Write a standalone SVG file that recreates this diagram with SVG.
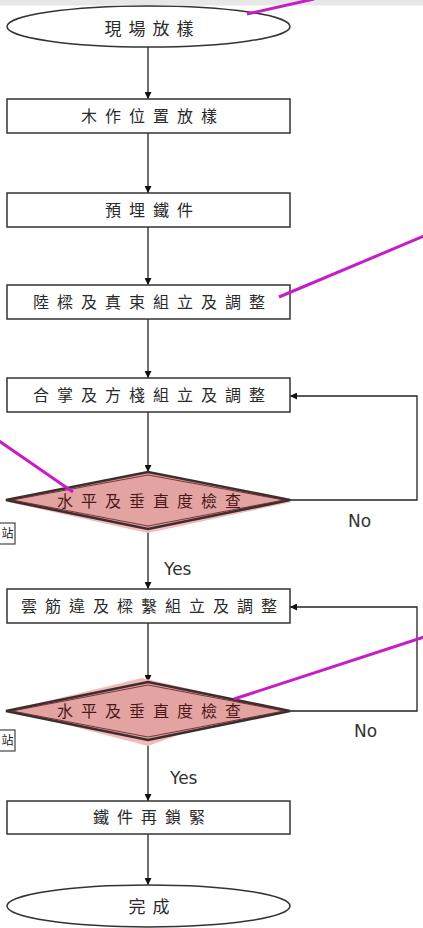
<svg xmlns="http://www.w3.org/2000/svg" width="423" height="928" viewBox="0 0 423 928">
<style>
.bg{fill:#ffffff}
.band{fill:#e7e7e7}
.box{fill:#ffffff;stroke:#333333;stroke-width:1.5}
.dia{fill:#e3a3a3;stroke:#3a2e2e;stroke-width:2.6;stroke-linejoin:miter}
.diain{fill:none;stroke:#6b2a2a;stroke-width:0.9}
.halo{fill:#f6b9b9}
.t{font-family:"Noto Sans CJK TC","Noto Sans CJK SC",sans-serif;font-size:16px;letter-spacing:8px;fill:#2a2a2a;text-anchor:middle}
.te{font-size:17px;letter-spacing:7px}
.td{fill:#4a1818}
.yn{font-family:"DejaVu Sans","Liberation Sans",sans-serif;font-size:17px;fill:#333333}
.ln{fill:none;stroke:#222222;stroke-width:1.3}
.mg{stroke:#c61ec6;stroke-width:3;fill:none}
.side{fill:#ffffff;stroke:#444444;stroke-width:1.2}
.st{font-family:"Noto Sans CJK TC",sans-serif;font-size:12px;fill:#222222}
</style>
<defs>
<marker id="ah" viewBox="0 0 10 10" refX="10" refY="5" markerWidth="7" markerHeight="7" markerUnits="userSpaceOnUse" orient="auto">
<path d="M0,0 L10,5 L0,10 z" fill="#111111"/>
</marker>
</defs>
<rect class="bg" x="0" y="0" width="423" height="928"/>
<rect class="band" x="0" y="0" width="423" height="5.5"/>

<g id="connectors">
<line class="ln" x1="148" y1="47" x2="148" y2="99" marker-end="url(#ah)"/>
<line class="ln" x1="148" y1="133" x2="148" y2="193" marker-end="url(#ah)"/>
<line class="ln" x1="148" y1="227" x2="148" y2="285" marker-end="url(#ah)"/>
<line class="ln" x1="148" y1="319" x2="148" y2="378" marker-end="url(#ah)"/>
<line class="ln" x1="148" y1="412" x2="148" y2="472" marker-end="url(#ah)"/>
<line class="ln" x1="148" y1="529" x2="148" y2="589" marker-end="url(#ah)"/>
<line class="ln" x1="148" y1="623" x2="148" y2="682" marker-end="url(#ah)"/>
<line class="ln" x1="148" y1="740" x2="148" y2="801" marker-end="url(#ah)"/>
<line class="ln" x1="148" y1="834" x2="148" y2="885" marker-end="url(#ah)"/>
<polyline class="ln" points="290,500 417,500 417,396 290,396" marker-end="url(#ah)"/>
<polyline class="ln" points="290,711 417,711 417,607 290,607" marker-end="url(#ah)"/>
<text class="yn" x="348" y="527">No</text>
<text class="yn" x="354" y="737">No</text>
<text class="yn" x="164" y="575">Yes</text>
<text class="yn" x="170" y="784">Yes</text>
</g>

<g id="start">
<ellipse class="box" cx="148.5" cy="26.5" rx="141.5" ry="20.5"/>
<text class="t te" x="152.5" y="34.5">現場放樣</text>
</g>
<g id="step1">
<rect class="box" x="7" y="99" width="283" height="34"/>
<text class="t" x="153" y="122">木作位置放樣</text>
</g>
<g id="step2">
<rect class="box" x="7" y="193" width="283" height="34"/>
<text class="t" x="153" y="216">預埋鐵件</text>
</g>
<g id="step3">
<rect class="box" x="7" y="285" width="283" height="34"/>
<text class="t" x="153" y="308">陸樑及真束組立及調整</text>
</g>
<g id="step4">
<rect class="box" x="7" y="378" width="283" height="34"/>
<text class="t" x="153" y="401">合掌及方棧組立及調整</text>
</g>
<g id="check1">
<polygon class="halo" points="8,502 148,474 292,502 148,533"/>
<polygon class="dia" points="6,500 148,472 290,500 148,529"/>
<polygon class="diain" points="12,500 148,475 284,500 148,526"/>
<text class="t td" x="153" y="507">水平及垂直度檢查</text>
</g>
<g id="step5">
<rect class="box" x="7" y="589" width="283" height="34"/>
<text class="t" x="153" y="612">雲筋違及樑繫組立及調整</text>
</g>
<g id="check2">
<polygon class="halo" points="10,710 142,678 260,705 148,746"/>
<polygon class="dia" points="6,711 148,682 290,711 148,740"/>
<polygon class="diain" points="12,711 148,685 284,711 148,737"/>
<text class="t td" x="153" y="717">水平及垂直度檢查</text>
</g>
<g id="step6">
<rect class="box" x="7" y="801" width="283" height="33"/>
<text class="t" x="153" y="823">鐵件再鎖緊</text>
</g>
<g id="end">
<ellipse class="box" cx="148.5" cy="906" rx="141.5" ry="21"/>
<text class="t te" x="152.5" y="913">完成</text>
</g>

<g id="side1">
<rect class="side" x="-10" y="523" width="25" height="21"/>
<text class="st" x="1.5" y="538">站</text>
</g>
<g id="side2">
<rect class="side" x="-10" y="730" width="25" height="21"/>
<text class="st" x="1.5" y="745">站</text>
</g>

<g id="callouts">
<line class="mg" x1="247" y1="14" x2="314" y2="-1"/>
<line class="mg" x1="279" y1="297" x2="424" y2="236"/>
<line class="mg" x1="-1" y1="441" x2="73" y2="492"/>
<line class="mg" x1="234" y1="699" x2="424" y2="637"/>
</g>
</svg>
